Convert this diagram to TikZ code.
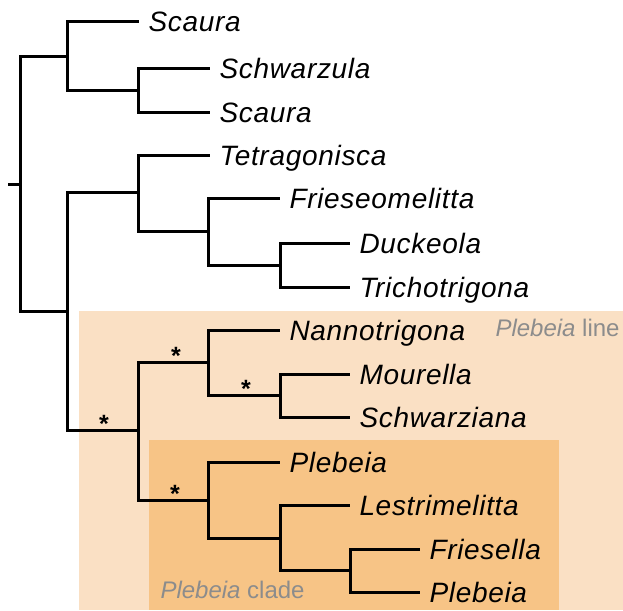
\documentclass[tikz,border=0pt]{standalone}
\usepackage{fontspec}
\setmainfont{Liberation Sans}
\newfontfamily\taxfont[LetterSpace=2.5]{Liberation Sans}
\definecolor{lineBg}{HTML}{FAE0C4}
\definecolor{cladeBg}{HTML}{F7C486}
\definecolor{labelGray}{HTML}{8C8C8C}

\begin{document}
\begin{tikzpicture}[x=1pt,y=-1pt,line width=3pt,
 taxon/.style={anchor=west,inner xsep=8pt,inner ysep=0pt,text height=20pt,text depth=0pt,font=\taxfont\fontsize{28}{30}\selectfont\itshape},
 ast/.style={anchor=base,inner sep=0pt,font=\fontsize{25}{27}\selectfont\bfseries},
 grp/.style={anchor=base west,inner sep=0pt,text=labelGray,font=\fontsize{24}{26}\selectfont}]
\useasboundingbox (0,0) rectangle (623,610);
\fill[lineBg](79,311) rectangle (623,610);
\fill[cladeBg](149,440) rectangle (559,610);
\node[grp](L1) at (494,336){\textit{Plebeia} line};
\node[grp](L2) at (159,598){\textit{Plebeia} clade};
% internal nodes
\coordinate(S) at (8,184);\coordinate(R) at (20,184);
\coordinate(A) at (67,57);\coordinate(A2) at (138,90);
\coordinate(B) at (67,311);\coordinate(C) at (138,192);\coordinate(C2) at (208,231);\coordinate(C3) at (280,265);
\coordinate(D) at (138,430);\coordinate(E) at (208,362);\coordinate(E2) at (280,395);
\coordinate(F) at (208,500);\coordinate(F2) at (280,538);\coordinate(F3) at (350,570);
% taxa
\node[taxon](t1) at (139,22){Scaura};
\node[taxon](t2) at (210,68){Schwarzula};
\node[taxon](t3) at (210,112){Scaura};
\node[taxon](t4) at (210,155){Tetragonisca};
\node[taxon](t5) at (280,198){Frieseomelitta};
\node[taxon](t6) at (350,243){Duckeola};
\node[taxon](t7) at (350,287){Trichotrigona};
\node[taxon](t8) at (280,330){Nannotrigona};
\node[taxon](t9) at (350,374){Mourella};
\node[taxon](t10) at (350,417){Schwarziana};
\node[taxon](t11) at (280,462){Plebeia};
\node[taxon](t12) at (350,505){Lestrimelitta};
\node[taxon](t13) at (420,549){Friesella};
\node[taxon](t14) at (420,592){Plebeia};
% support
\node[ast](s1) at (104,432){*};\node[ast](s2) at (176,364){*};
\node[ast](s3) at (246,397){*};\node[ast](s4) at (175,502){*};
% branches
\draw(S)--(R);\draw(R)|-(A);\draw(R)|-(B);
\draw(A)|-(t1.west);\draw(A)|-(A2);\draw(A2)|-(t2.west);\draw(A2)|-(t3.west);
\draw(B)|-(C);\draw(B)|-(D);\draw(C)|-(t4.west);\draw(C)|-(C2);
\draw(C2)|-(t5.west);\draw(C2)|-(C3);\draw(C3)|-(t6.west);\draw(C3)|-(t7.west);
\draw(D)|-(E);\draw(D)|-(F);\draw(E)|-(t8.west);\draw(E)|-(E2);
\draw(E2)|-(t9.west);\draw(E2)|-(t10.west);
\draw(F)|-(t11.west);\draw(F)|-(F2);\draw(F2)|-(t12.west);\draw(F2)|-(F3);
\draw(F3)|-(t13.west);\draw(F3)|-(t14.west);
\end{tikzpicture}
\end{document}
